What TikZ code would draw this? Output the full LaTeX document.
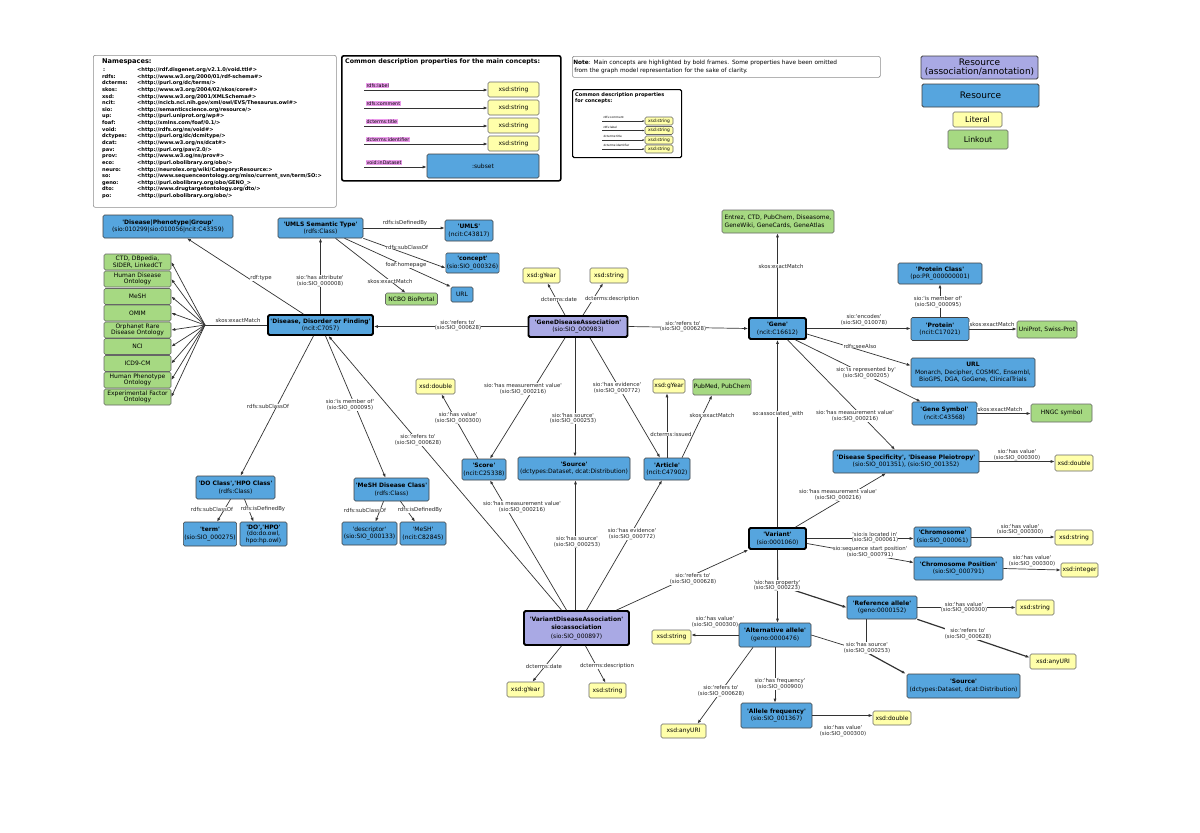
\documentclass[tikz,border=0pt]{standalone}
\usepackage{fontspec}
\newfontfamily\dvsans{DejaVu Sans}
\usetikzlibrary{arrows.meta}
\AtBeginDocument{\dvsans}
\definecolor{resblue}{HTML}{56A5DE}
\definecolor{assocpurple}{HTML}{A9A9E4}
\definecolor{lityellow}{HTML}{FFFFAA}
\definecolor{linkgreen}{HTML}{A6D982}
\definecolor{pinkc}{HTML}{EE9DEE}
\newcommand\nsline[2]{\makebox[35pt][l]{#1}#2}
\tikzset{
 nd/.style={rounded corners=1.5pt, draw=black!75, line width=0.6pt, align=center, inner sep=1pt, font=\fontsize{6}{7.4}\selectfont},
 res/.style={nd, fill=resblue},
 assoc/.style={nd, fill=assocpurple},
 lit/.style={nd, fill=lityellow, draw=black!60},
 lnk/.style={nd, fill=linkgreen, draw=black!60},
 keyc/.style={line width=1.8pt, draw=black},
 sz/.style 2 args={minimum width=#1pt, minimum height=#2pt},
 lbl/.style={fill=white, inner sep=0.3pt, align=center, font=\fontsize{5.4}{5.5}\selectfont, text=black!85},
 conn/.style={draw=black!80, line width=0.7pt, -{Latex[length=4pt,width=3pt]}},
 plainln/.style={draw=black!80, line width=0.7pt},
 hvy/.style={conn, line width=1.2pt},
 pinkl/.style={fill=pinkc, inner sep=0.4pt, font=\fontsize{4.8}{5.5}\selectfont},
}
\begin{document}
\begin{tikzpicture}[x=1pt,y=-1pt]
\useasboundingbox (0,0) rectangle (1200,833);
\fill[white] (0,0) rectangle (1200,833);

% ---------- Namespaces ----------
\node[draw=black!45, line width=0.6pt, rounded corners=2pt, anchor=north west, sz={243}{152}] (nsbox) at (93,55) {};
\node[anchor=north west, inner sep=0, font=\bfseries\fontsize{6.6}{7}\selectfont] (nstitle) at (102,58.5) {Namespaces:};
\node[anchor=north west, inner sep=0, align=left, font=\bfseries\fontsize{5.1}{6.63}\selectfont] (nslist) at (102,67.5) {%
\nsline{\,:}{<http://rdf.disgenet.org/v2.1.0/void.ttl\#>}\\
\nsline{rdfs:}{<http://www.w3.org/2000/01/rdf-schema\#>}\\
\nsline{dcterms:}{<http://purl.org/dc/terms/>}\\
\nsline{skos:}{<http://www.w3.org/2004/02/skos/core\#>}\\
\nsline{xsd:}{<http://www.w3.org/2001/XMLSchema\#>}\\
\nsline{ncit:}{<http://ncicb.nci.nih.gov/xml/owl/EVS/Thesaurus.owl\#>}\\
\nsline{sio:}{<http://semanticscience.org/resource/>}\\
\nsline{up:}{<http://purl.uniprot.org/wp\#>}\\
\nsline{foaf:}{<http://xmlns.com/foaf/0.1/>}\\
\nsline{void:}{<http://rdfs.org/ns/void\#>}\\
\nsline{dctypes:}{<http://purl.org/dc/dcmitype/>}\\
\nsline{dcat:}{<http://www.w3.org/ns/dcat\#>}\\
\nsline{pav:}{<http://purl.org/pav/2.0/>}\\
\nsline{prov:}{<http://www.w3.og/ns/prov\#>}\\
\nsline{eco:}{<http://purl.obolibrary.org/obo/>}\\
\nsline{neuro:}{<http://neurolex.org/wiki/Category:Resource:>}\\
\nsline{so:}{<http://www.sequenceontology.org/miso/current\_svn/term/SO:>}\\
\nsline{geno:}{<http://purl.obolibrary.org/obo/GENO\_>}\\
\nsline{dto:}{<http://www.drugtargetontology.org/dto/>}\\
\nsline{po:}{<http://purl.obolibrary.org/obo/>}};

% ---------- Common description (main concepts) ----------
\node[draw=black, line width=1.6pt, rounded corners=2pt, anchor=north west, sz={219}{125}] (cdbox) at (341,55) {};
\node[anchor=west, inner sep=0, font=\bfseries\fontsize{6.3}{7}\selectfont] (cdtitle) at (345,62) {Common description properties for the main concepts:};
\node[lit, sz={51}{15}] (cds1) at (513.5,89.5) {xsd:string};
\node[lit, sz={51}{15}] (cds2) at (513.5,107.5) {xsd:string};
\node[lit, sz={51}{15}] (cds3) at (513.5,125.5) {xsd:string};
\node[lit, sz={51}{15}] (cds4) at (513.5,143.5) {xsd:string};
\node[res, sz={112}{24}] (cdsub) at (483,166) {:subset};
\coordinate (cda1) at (364,90);
\coordinate (cda2) at (364,108);
\coordinate (cda3) at (364,126);
\coordinate (cda4) at (364,144);
\coordinate (cda5) at (364,167);
\draw[conn] (cda1) -- (cda1 -| cds1.west);
\draw[conn] (cda2) -- (cda2 -| cds2.west);
\draw[conn] (cda3) -- (cda3 -| cds3.west);
\draw[conn] (cda4) -- (cda4 -| cds4.west);
\draw[conn] (cda5) -- (cda5 -| cdsub.west);
\node[pinkl, anchor=south west] (cdl1) at (366,88) {rdfs:label};
\node[pinkl, anchor=south west] (cdl2) at (366,106) {rdfs:comment};
\node[pinkl, anchor=south west] (cdl3) at (366,124) {dcterms:title};
\node[pinkl, anchor=south west] (cdl4) at (366,142) {dcterms:identifier};
\node[pinkl, anchor=south west] (cdl5) at (366,165) {void:inDataset};

% ---------- Note ----------
\node[draw=black!45, line width=0.6pt, rounded corners=1.5pt, anchor=north west, align=left, inner sep=1pt, text width=306pt, minimum height=21pt, font=\fontsize{5.8}{8}\selectfont] (note) at (572,56) {\textbf{Note}: Main concepts are highlighted by bold frames. Some properties have been omitted\\\hspace*{1pt}from the graph model representation for the sake of clarity.};

% ---------- Common description (concepts) small ----------
\node[draw=black, line width=1.2pt, rounded corners=1.5pt, anchor=north west, sz={109}{68}] (scbox) at (572,89) {};
\node[anchor=north west, inner sep=0, align=left, font=\bfseries\fontsize{5}{6.7}\selectfont] (sctitle) at (575,92) {Common description properties\\for concepts:};
\node[lit, sz={28}{8}, inner sep=0.2pt, font=\fontsize{4.4}{5}\selectfont] (scs1) at (659,121) {xsd:string};
\node[lit, sz={28}{8}, inner sep=0.2pt, font=\fontsize{4.4}{5}\selectfont] (scs2) at (659,130.5) {xsd:string};
\node[lit, sz={28}{8}, inner sep=0.2pt, font=\fontsize{4.4}{5}\selectfont] (scs3) at (659,140) {xsd:string};
\node[lit, sz={28}{8}, inner sep=0.2pt, font=\fontsize{4.4}{5}\selectfont] (scs4) at (659,149) {xsd:string};
\coordinate (sca1) at (602,121);
\coordinate (sca2) at (602,130.5);
\coordinate (sca3) at (602,140);
\coordinate (sca4) at (602,149);
\draw[conn, line width=0.4pt, -{Latex[length=2.2pt,width=1.8pt]}] (sca1) -- (scs1.west);
\draw[conn, line width=0.4pt, -{Latex[length=2.2pt,width=1.8pt]}] (sca2) -- (scs2.west);
\draw[conn, line width=0.4pt, -{Latex[length=2.2pt,width=1.8pt]}] (sca3) -- (scs3.west);
\draw[conn, line width=0.4pt, -{Latex[length=2.2pt,width=1.8pt]}] (sca4) -- (scs4.west);
\node[anchor=south west, inner sep=0.3pt, font=\fontsize{2.9}{3}\selectfont] (scl1) at (603,119.5) {rdfs:comment};
\node[anchor=south west, inner sep=0.3pt, font=\fontsize{2.9}{3}\selectfont] (scl2) at (603,129) {rdfs:label};
\node[anchor=south west, inner sep=0.3pt, font=\fontsize{2.9}{3}\selectfont] (scl3) at (603,138.5) {dcterms:title};
\node[anchor=south west, inner sep=0.3pt, font=\fontsize{2.9}{3}\selectfont] (scl4) at (603,147.5) {dcterms:identifier};

% ---------- Legend ----------
\node[assoc, line width=0.9pt, sz={117}{23}, inner sep=0.5pt, font=\fontsize{9}{9.6}\selectfont] (lg1) at (979.5,67.5) {Resource\\(association/annotation)};
\node[res, line width=0.9pt, sz={117}{23}, font=\fontsize{9}{10}\selectfont] (lg2) at (980.5,95.5) {Resource};
\node[lit, sz={49}{15}, font=\fontsize{7.8}{9}\selectfont] (lg3) at (977.5,119.5) {Literal};
\node[lnk, sz={60}{19}, font=\fontsize{7.8}{9}\selectfont] (lg4) at (978,139.5) {Linkout};

% ---------- Graph nodes ----------
\node[res, sz={130}{23}] (dpg) at (168,226.5) {\textbf{'Disease|Phenotype|Group'}\\(sio:010299|sio:010056|ncit:C43359)};
\node[res, sz={85}{20}] (umlsst) at (320.5,228) {\textbf{'UMLS Semantic Type'}\\(rdfs:Class)};
\node[res, sz={48}{21}] (umls) at (469,230.5) {\textbf{'UMLS'}\\(ncit:C43817)};
\node[res, sz={53}{20}] (concept) at (472.5,263) {\textbf{'concept'}\\(sio:SIO\_000326)};
\node[res, sz={22}{15}] (urla) at (462,294.5) {URL};
\node[lnk, sz={52}{12}] (ncbo) at (411.5,299) {NCBO BioPortal};
\node[res, keyc, sz={105}{20}] (ddf) at (320.5,325) {\textbf{'Disease, Disorder or Finding'}\\(ncit:C7057)};

\node[lnk, sz={67}{16}, font=\fontsize{6}{6.4}\selectfont] (lk1) at (137.5,262) {CTD, DBpedia,\\SIDER, LinkedCT};
\node[lnk, sz={67}{16}, font=\fontsize{6}{6.4}\selectfont] (lk2) at (137.5,279) {Human Disease\\Ontology};
\node[lnk, sz={67}{16}] (lk3) at (137.5,296.5) {MeSH};
\node[lnk, sz={67}{16}] (lk4) at (137.5,313) {OMIM};
\node[lnk, sz={67}{16}, font=\fontsize{6}{6.4}\selectfont] (lk5) at (137.5,330) {Orphanet Rare\\Disease Ontology};
\node[lnk, sz={67}{16}] (lk6) at (137.5,346.5) {NCI};
\node[lnk, sz={67}{16}] (lk7) at (137.5,363.5) {ICD9-CM};
\node[lnk, sz={67}{16}, font=\fontsize{6}{6.4}\selectfont] (lk8) at (137.5,380) {Human Phenotype\\Ontology};
\node[lnk, sz={67}{16}, font=\fontsize{6}{6.4}\selectfont] (lk9) at (137.5,397) {Experimental Factor\\Ontology};

\node[assoc, keyc, sz={99}{21}] (gda) at (578,326.5) {\textbf{'GeneDiseaseAssociation'}\\(sio:SIO\_000983)};
\node[lit, sz={37}{15}] (gy1) at (541.5,275.5) {xsd:gYear};
\node[lit, sz={38}{15}] (gs1) at (609,275.5) {xsd:string};
\node[res, keyc, sz={57}{21}] (gene) at (777.5,328.5) {\textbf{'Gene'}\\(ncit:C16612)};
\node[lnk, sz={112}{23}, align=left] (entrez) at (778,221.5) {Entrez, CTD, PubChem, Diseasome,\\GeneWiki, GeneCards, GeneAtlas};
\node[res, sz={84}{21}] (pclass) at (940,273.5) {\textbf{'Protein Class'}\\(po:PR\_000000001)};
\node[res, sz={58}{23}] (protein) at (940,329) {\textbf{'Protein'}\\(ncit:C17021)};
\node[lnk, sz={60}{17}] (uniprot) at (1047,329.5) {UniProt, Swiss-Prot};
\node[res, sz={124}{29}] (urlb) at (973,372.5) {\textbf{URL}\\Monarch, Decipher, COSMIC, Ensembl,\\BioGPS, DGA, GoGene, ClinicalTrials};
\node[res, sz={65}{23}] (gsym) at (944.5,413.5) {\textbf{'Gene Symbol'}\\(ncit:C43568)};
\node[lnk, sz={61}{18}] (hngc) at (1061.5,413) {HNGC symbol};
\node[res, sz={146}{23}] (ds) at (906,461.5) {\textbf{'Disease Specificity', 'Disease Pleiotropy'}\\(sio:SIO\_001351), (sio:SIO\_001352)};
\node[lit, sz={38}{16}] (xd2) at (1074,463) {xsd:double};

\node[res, keyc, sz={57}{21}] (var) at (777.5,538.5) {\textbf{'Variant'}\\(sio:0001060)};
\node[res, sz={57}{20}] (chrom) at (942.5,537) {\textbf{'Chromosome'}\\(sio:SIO\_000061)};
\node[lit, sz={38}{15}] (xs2) at (1074,537.5) {xsd:string};
\node[res, sz={89}{23}] (cp) at (958.5,568.5) {\textbf{'Chromosome Position'}\\(sio:SIO\_000791)};
\node[lit, sz={37}{14}] (xint) at (1079.5,570) {xsd:integer};
\node[res, sz={70}{23}] (ra) at (882,607.5) {\textbf{'Reference allele'}\\(geno:0000152)};
\node[lit, sz={38}{15}] (xs5) at (1035,607.5) {xsd:string};
\node[lit, sz={46}{15}] (au2) at (1053,661.5) {xsd:anyURI};
\node[res, sz={113}{24}] (src2) at (963.5,686) {\textbf{'Source'}\\(dctypes:Dataset, dcat:Distribution)};
\node[res, sz={72}{24}] (alt) at (775,635) {\textbf{'Alternative allele'}\\(geno:0000476)};
\node[lit, sz={39}{14}] (xs3) at (671.5,637) {xsd:string};
\node[res, sz={71}{25}] (af) at (776.5,715.5) {\textbf{'Allele frequency'}\\(sio:SIO\_001367)};
\node[lit, sz={38}{14}] (xd3) at (892,718) {xsd:double};
\node[lit, sz={45}{14}] (au3) at (683.5,731) {xsd:anyURI};

\node[assoc, keyc, sz={105}{34}, font=\fontsize{6}{8.5}\selectfont] (vda) at (576.5,628) {\textbf{'VariantDiseaseAssociation'}\\\textbf{sio:association}\\(sio:SIO\_000897)};
\node[lit, sz={37}{15}] (gy3) at (525.5,689.5) {xsd:gYear};
\node[lit, sz={37}{15}] (xs4) at (607.5,690.5) {xsd:string};

\node[res, sz={44}{21}] (score) at (484,469.5) {\textbf{'Score'}\\(ncit:C25338)};
\node[lit, sz={39}{15}] (xd1) at (435.5,386.5) {xsd:double};
\node[res, sz={112}{23}] (src1) at (574,468.5) {\textbf{'Source'}\\(dctypes:Dataset, dcat:Distribution)};
\node[res, sz={46}{22}] (art) at (667,469) {\textbf{'Article'}\\(ncit:C47902)};
\node[lit, sz={32}{14}] (gy2) at (669,386) {xsd:gYear};
\node[lnk, sz={52}{16}] (pm) at (722,387) {PubMed, PubChem};

\node[res, sz={79}{23}] (docl) at (235.5,487.5) {\textbf{'DO Class','HPO Class'}\\(rdfs:Class)};
\node[res, sz={52}{24}] (term) at (210,534) {\textbf{'term'}\\(sio:SIO\_000275)};
\node[res, sz={47}{24}, font=\fontsize{6}{6.6}\selectfont] (dohpo) at (263.5,534) {\textbf{'DO','HPO'}\\(do:do.owl,\\hpo:hp.owl)};
\node[res, sz={75}{23}] (mdc) at (391.5,489.5) {\textbf{'MeSH Disease Class'}\\(rdfs:Class)};
\node[res, sz={55}{23}] (desc) at (369.5,533.5) {'descriptor'\\(sio:SIO\_000133)};
\node[res, sz={46}{23}] (mesh) at (423,533.5) {'MeSH'\\(ncit:C82845)};

% ---------- Edges ----------
\draw[conn] (gda.west) -- (gda.west -| ddf.east);
\draw[conn] (gda.east) -- (gene.west);
\draw[conn] ([xshift=-13pt]gda.north) -- ([xshift=6pt]gy1.south);
\draw[conn] ([xshift=5pt]gda.north) -- ([xshift=-6pt]gs1.south);
\draw[conn] (gene.north) -- (gene.north |- entrez.south);
\draw[conn] (gene.east) -- (gene.east -| protein.west);
\draw[conn] (protein.north) -- (pclass.south);
\draw[conn] (protein.east) -- (protein.east -| uniprot.west);
\draw[conn] ([yshift=-5.5pt]gene.east) -- ([yshift=7pt]urlb.west);
\draw[conn] ([xshift=18pt]gene.south) -- ([xshift=9pt]gsym.north west);
\draw[conn] (gsym.east) -- (gsym.east -| hngc.west);
\draw[conn] ([xshift=10pt]gene.south) -- ([xshift=-11pt]ds.north);
\draw[conn] (ds.east) -- (ds.east -| xd2.west);
\draw[conn] (var.north) -- (var.north |- gene.south);
\draw[conn] ([xshift=18pt]var.north) -- ([xshift=-20pt]ds.south);
\draw[conn] (var.east) -- (var.east -| chrom.west);
\draw[conn] (chrom.east) -- (chrom.east -| xs2.west);
\draw[conn] ([yshift=-5pt]var.east) -- ([yshift=6pt]cp.west);
\draw[conn] (cp.east) -- (xint.west);
\draw[conn] (var.south) -- (var.south |- alt.north);
\coordinate (hp) at (778,585);
\draw[plainln] (var.south) -- (hp);
\draw[hvy] (hp) -- (ra.west);
\draw[conn] (ra.east) -- (ra.east -| xs5.west);
\draw[hvy] (ra.south east) -- ([yshift=4pt]au2.west);
\coordinate (hs) at (866,652);
\draw[plainln] ([xshift=-16pt]ra.south) -- (hs);
\draw[plainln] (alt.east) -- (hs);
\draw[hvy] (hs) -- ([xshift=-1pt]src2.north west);
\draw[conn] (alt.west) -- (alt.west -| xs3.east);
\draw[conn] (alt.south) -- (alt.south |- af.north);
\draw[conn] (af.east) -- (af.east -| xd3.west);
\draw[conn] ([xshift=-22pt]alt.south) -- ([xshift=14pt]au3.north);
\draw[conn] ([xshift=40pt]vda.north) -- (var.south west);
\draw[conn] ([xshift=-15pt]vda.south) -- ([xshift=7pt]gy3.north);
\draw[conn] ([xshift=9pt]vda.south) -- ([xshift=-2pt]xs4.north);
\draw[conn] ([xshift=-10pt]vda.north) -- ([xshift=6pt]score.south);
\draw[conn] ([xshift=-15pt]vda.north) -- ([xshift=8pt]ddf.south);
\draw[conn] ([xshift=-1pt]vda.north) -- ([xshift=-1pt]vda.north |- src1.south);
\draw[conn] ([xshift=10pt]vda.north) -- ([xshift=-5pt]art.south);
\draw[conn] ([xshift=-13pt]gda.south) -- ([xshift=6pt]score.north);
\draw[conn] ([xshift=-3pt]gda.south) -- ([xshift=-3pt]gda.south |- src1.north);
\draw[conn] ([xshift=12pt]gda.south) -- ([xshift=-7pt]art.north);
\draw[conn] (art.north) -- (art.north |- gy2.south);
\draw[conn] ([xshift=15pt]art.north) -- ([xshift=-10pt]pm.south);
\draw[conn] ([xshift=-6pt]score.north) -- ([xshift=6pt]xd1.south);
\draw[conn] (ddf.north) -- (ddf.north |- umlsst.south);
\draw[conn] ([xshift=-17pt]ddf.north) -- ([xshift=19pt]dpg.south);
\coordinate (fan) at (205,325);
\draw[plainln] (ddf.west) -- (fan);
\foreach \i in {1,...,9} \draw[conn] (fan) -- (lk\i.east);
\draw[conn] ([xshift=-7pt]ddf.south) -- ([xshift=5pt]docl.north);
\draw[conn] ([xshift=5pt]ddf.south) -- ([xshift=-6pt]mdc.north);
\draw[conn] ([xshift=-5pt]docl.south) -- ([xshift=7pt]term.north);
\draw[conn] ([xshift=9pt]docl.south) -- ([xshift=-10pt]dohpo.north);
\draw[conn] ([xshift=-8pt]mdc.south) -- ([xshift=6pt]desc.north);
\draw[conn] ([xshift=9pt]mdc.south) -- ([xshift=-8pt]mesh.north);
\draw[conn] (umlsst.east) -- (umlsst.east -| umls.west);
\draw[conn] (umlsst.south east) -- ([yshift=-5pt]concept.west);
\draw[conn] ([xshift=24pt]umlsst.south) -- (urla.north west);
\draw[conn] ([xshift=15pt]umlsst.south) -- ([xshift=-6pt]ncbo.north);

% ---------- Edge labels ----------
\node[lbl] (e1) at (458,325.5) {sio:'refers to'\\(sio:SIO\_000628)};
\node[lbl] (e2) at (683,326.5) {sio:'refers to'\\(sio:SIO\_000628)};
\node[lbl] (e3) at (559,299) {dcterms:date};
\node[lbl] (e4) at (612,299) {dcterms:description};
\node[lbl] (e5) at (781,266) {skos:exactMatch};
\node[lbl] (e6) at (864,320) {sio:'encodes'\\(sio:SIO\_010078)};
\node[lbl] (e7) at (938,302) {sio:'is member of'\\(sio:SIO\_000095)};
\node[lbl] (e8) at (992,324) {skos:exactMatch};
\node[lbl] (e9) at (860,346) {rdfs:seeAlso};
\node[lbl] (e10) at (866,373) {sio:'is represented by'\\(sio:SIO\_000205)};
\node[lbl] (e11) at (1000,409.5) {skos:exactMatch};
\node[lbl] (e12) at (855,416) {sio:'has measurement value'\\(sio:SIO\_000216)};
\node[lbl] (e13) at (1017,455) {sio:'has value'\\(sio:SIO\_000300)};
\node[lbl] (e14) at (778,414) {so:associated\_with};
\node[lbl] (e15) at (838,495) {sio:'has measurement value'\\(sio:SIO\_000216)};
\node[lbl] (e16) at (875,537.5) {'sio:is located in'\\(sio:SIO\_000061)};
\node[lbl] (e17) at (1020,529.5) {sio:'has value'\\(sio:SIO\_000300)};
\node[lbl] (e18) at (870,552) {sio:sequence start position'\\(sio:SIO\_000791)};
\node[lbl] (e19) at (1032,561) {sio:'has value'\\(sio:SIO\_000300)};
\node[lbl] (e20) at (777,585.5) {'sio:has property'\\(sio:SIO\_000223)};
\node[lbl] (e21) at (964,607.5) {sio:'has value'\\(sio:SIO\_000300)};
\node[lbl] (e22) at (968,634) {sio:'refers to'\\(sio:SIO\_000628)};
\node[lbl] (e23) at (867,648) {sio:'has source'\\(sio:SIO\_000253)};
\node[lbl] (e24) at (715,622) {sio:'has value'\\(sio:SIO\_000300)};
\node[lbl] (e25) at (780,684) {sio:'has frequency'\\(sio:SIO\_000900)};
\node[lbl] (e26) at (843,731) {sio:'has value'\\(sio:SIO\_000300)};
\node[lbl] (e27) at (721,691) {sio:'refers to'\\(sio:SIO\_000628)};
\node[lbl] (e28) at (693,579) {sio:'refers to'\\(sio:SIO\_000628)};
\node[lbl] (e29) at (544,666) {dcterms:date};
\node[lbl] (e30) at (607,666) {dcterms:description};
\node[lbl] (e31) at (522,507) {sio:'has measurement value'\\(sio:SIO\_000216)};
\node[lbl] (e32) at (418,440) {sio:'refers to'\\(sio:SIO\_000628)};
\node[lbl] (e33) at (577,542) {sio:'has source'\\(sio:SIO\_000253)};
\node[lbl] (e34) at (632,534) {sio:'has evidence'\\(sio:SIO\_000772)};
\node[lbl] (e35) at (523,389) {sio:'has measurement value'\\(sio:SIO\_000216)};
\node[lbl] (e36) at (573,418.5) {sio:'has source'\\(sio:SIO\_000253)};
\node[lbl] (e37) at (617,388) {sio:'has evidence'\\(sio:SIO\_000772)};
\node[lbl] (e38) at (671,434) {dcterms:issued};
\node[lbl] (e39) at (712,415) {skos:exactMatch};
\node[lbl] (e40) at (458,418) {sio:'has value'\\(sio:SIO\_000300)};
\node[lbl] (e41) at (320,281) {sio:'has attribute'\\(sio:SIO\_000008)};
\node[lbl] (e42) at (261,278) {rdf:type};
\node[lbl] (e43) at (238,320) {skos:exactMatch};
\node[lbl] (e44) at (268,406) {rdfs:subClassOf};
\node[lbl] (e45) at (350,405) {sio:'is member of'\\(sio:SIO\_000095)};
\node[lbl] (e46) at (212,509) {rdfs:subClassOf};
\node[lbl] (e47) at (263,509) {rdfs:isDefinedBy};
\node[lbl] (e48) at (365,510) {rdfs:subClassOf};
\node[lbl] (e49) at (420,510) {rdfs:isDefinedBy};
\node[lbl] (e50) at (405,223) {rdfs:isDefinedBy};
\node[lbl] (e51) at (407,247) {rdfs:subClassOf};
\node[lbl] (e52) at (406,265) {foaf:homepage};
\node[lbl] (e53) at (390,281) {skos:exactMatch};
\end{tikzpicture}
\end{document}
